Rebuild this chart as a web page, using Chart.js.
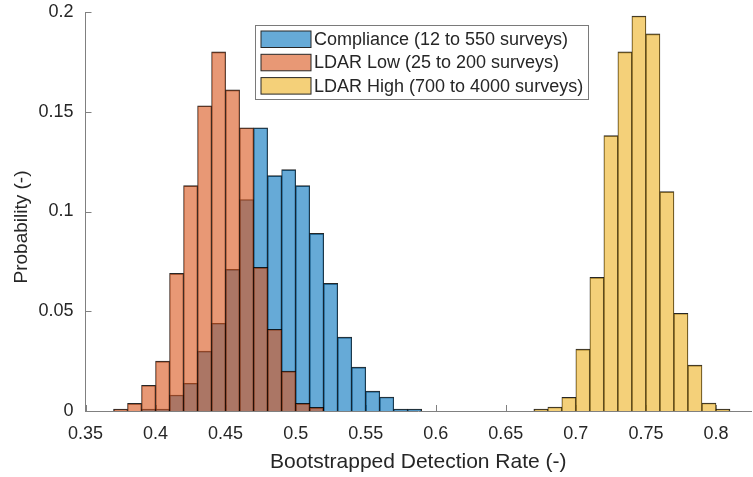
<!DOCTYPE html>
<html>
<head>
<meta charset="utf-8">
<script src="https://cdn.jsdelivr.net/npm/chart.js@4/dist/chart.umd.min.js"></script>
<style>
  html, body { margin: 0; padding: 0; background: #ffffff; }
  #wrap { width: 753px; height: 477px; }
</style>
</head>
<body>
<div id="wrap"><canvas id="chart" width="753" height="477"></canvas></div>
<script>
// Histogram bins (left edges) and probabilities for each survey group
const binWidth = 0.01;

const complianceBins = [0.39, 0.40, 0.41, 0.42, 0.43, 0.44, 0.45, 0.46, 0.47, 0.48,
                        0.49, 0.50, 0.51, 0.52, 0.53, 0.54, 0.55, 0.56, 0.57, 0.58];
const complianceProb = [0.001, 0.001, 0.008, 0.0139, 0.030, 0.044, 0.071, 0.106, 0.142, 0.118,
                        0.121, 0.113, 0.089, 0.064, 0.037, 0.022, 0.010, 0.007, 0.001, 0.001];

const ldarLowBins = [0.37, 0.38, 0.39, 0.40, 0.41, 0.42, 0.43, 0.44, 0.45, 0.46,
                     0.47, 0.48, 0.49, 0.50, 0.51];
const ldarLowProb = [0.001, 0.0038, 0.0129, 0.025, 0.069, 0.113, 0.153, 0.180, 0.161, 0.142,
                     0.072, 0.041, 0.020, 0.0038, 0.0018];

const ldarHighBins = [0.67, 0.68, 0.69, 0.70, 0.71, 0.72, 0.73, 0.74, 0.75, 0.76,
                      0.77, 0.78, 0.79, 0.80];
const ldarHighProb = [0.001, 0.002, 0.0069, 0.031, 0.067, 0.138, 0.180, 0.198, 0.189, 0.110,
                      0.049, 0.023, 0.004, 0.001];

const seriesLabels = [
  'Compliance (12 to 550 surveys)',
  'LDAR Low (25 to 200 surveys)',
  'LDAR High (700 to 4000 surveys)'
];

const xTicks = [0.35, 0.4, 0.45, 0.5, 0.55, 0.6, 0.65, 0.7, 0.75, 0.8];
const yTicks = [0, 0.05, 0.1, 0.15, 0.2];

const xTitle = 'Bootstrapped Detection Rate (-)';
const yTitle = 'Probability (-)';

const FONT = '"Liberation Sans", Arial, Helvetica, sans-serif';
const TEXT_COLOR = '#262626';
const AXIS_COLOR = '#808080';
const EDGE_COLOR = 'rgba(0,0,0,0.85)';

const faceColors = [
  'rgba(0,114,189,0.6)',
  'rgba(217,83,25,0.6)',
  'rgba(237,177,32,0.6)'
];

function toPoints(bins, probs) {
  return bins.map((b, i) => ({ x: b + binWidth / 2, y: probs[i] }));
}

// later series are painted over earlier ones (higher order = drawn first)
function makeDataset(label, bins, probs, color, order) {
  const last = bins.length - 1;
  return {
    label: label,
    data: toPoints(bins, probs),
    order: order,
    backgroundColor: color,
    borderColor: EDGE_COLOR,
    borderWidth: (ctx) => ({
      top: 1,
      bottom: 0,
      left: ctx.dataIndex === 0 ? 1 : 0.6,
      right: ctx.dataIndex === last ? 1 : 0.6
    }),
    borderSkipped: false,
    grouped: false,
    barPercentage: 1,
    categoryPercentage: 1
  };
}

// Inward tick marks along both axes
const tickMarks = {
  id: 'tickMarks',
  beforeDatasetsDraw(chart) {
    const { ctx, chartArea, scales } = chart;
    const len = 6;
    ctx.save();
    ctx.strokeStyle = AXIS_COLOR;
    ctx.lineWidth = 1;
    ctx.beginPath();
    xTicks.forEach(v => {
      const px = Math.round(scales.x.getPixelForValue(v)) + 0.5;
      ctx.moveTo(px, chartArea.bottom);
      ctx.lineTo(px, chartArea.bottom - len);
    });
    yTicks.forEach(v => {
      const py = Math.round(scales.y.getPixelForValue(v)) + 0.5;
      ctx.moveTo(chartArea.left, py);
      ctx.lineTo(chartArea.left + len, py);
    });
    ctx.stroke();
    ctx.restore();
  }
};

// Axis titles and the boxed legend in the upper middle of the plot
const annotations = {
  id: 'annotations',
  afterDraw(chart) {
    const { ctx, chartArea } = chart;
    ctx.save();
    ctx.fillStyle = TEXT_COLOR;

    ctx.font = '21px ' + FONT;
    ctx.textAlign = 'center';
    ctx.textBaseline = 'alphabetic';
    ctx.fillText(xTitle, (chartArea.left + chartArea.right) / 2, 468);

    ctx.save();
    ctx.translate(27, 227);
    ctx.rotate(-Math.PI / 2);
    ctx.font = '19px ' + FONT;
    ctx.fillText(yTitle, 0, 0);
    ctx.restore();

    // legend
    const bx = 255.5, by = 25.5, bw = 333, bh = 74;
    ctx.fillStyle = '#ffffff';
    ctx.fillRect(bx, by, bw, bh);
    ctx.strokeStyle = '#7a7a7a';
    ctx.lineWidth = 1;
    ctx.strokeRect(bx, by, bw, bh);

    ctx.font = '18px ' + FONT;
    ctx.textAlign = 'left';
    ctx.textBaseline = 'middle';
    chart.data.datasets.forEach((ds, i) => {
      const sy = 31 + i * 23.3;
      ctx.fillStyle = '#ffffff';
      ctx.fillRect(261, sy, 50, 16.5);
      ctx.fillStyle = ds.backgroundColor;
      ctx.fillRect(261, sy, 50, 16.5);
      ctx.strokeStyle = '#262626';
      ctx.strokeRect(261, sy, 50, 16.5);
      ctx.fillStyle = TEXT_COLOR;
      ctx.fillText(ds.label, 314, sy + 9);
    });
    ctx.restore();
  }
};

const tickFont = { family: FONT, size: 18 };

new Chart(document.getElementById('chart'), {
  type: 'bar',
  data: {
    datasets: [
      makeDataset(seriesLabels[0], complianceBins, complianceProb, faceColors[0], 3),
      makeDataset(seriesLabels[1], ldarLowBins, ldarLowProb, faceColors[1], 2),
      makeDataset(seriesLabels[2], ldarHighBins, ldarHighProb, faceColors[2], 1)
    ]
  },
  options: {
    responsive: false,
    animation: false,
    devicePixelRatio: 1,
    layout: { padding: { top: 12, right: 2, left: 0, bottom: 0 } },
    plugins: {
      legend: { display: false },
      tooltip: { enabled: false }
    },
    scales: {
      x: {
        type: 'linear',
        min: 0.35,
        max: 0.825,
        offset: false,
        grid: { display: false, drawTicks: false },
        border: { display: true, color: AXIS_COLOR, width: 1 },
        ticks: {
          font: tickFont,
          color: TEXT_COLOR,
          padding: 12,
          autoSkip: false,
          maxRotation: 0,
          callback: (v) => String(v)
        },
        afterBuildTicks: (s) => { s.ticks = xTicks.map(v => ({ value: v })); },
        afterFit: (s) => { s.height = 66; s.paddingLeft = 0; s.paddingRight = 0; }
      },
      y: {
        min: 0,
        max: 0.2,
        grid: { display: false, drawTicks: false },
        border: { display: true, color: AXIS_COLOR, width: 1 },
        ticks: {
          font: tickFont,
          color: TEXT_COLOR,
          padding: 12,
          callback: (v) => String(v)
        },
        afterBuildTicks: (s) => { s.ticks = yTicks.map(v => ({ value: v })); },
        afterFit: (s) => { s.width = 85.5; s.paddingTop = 0; s.paddingBottom = 0; }
      }
    }
  },
  plugins: [tickMarks, annotations]
});
</script>
</body>
</html>
